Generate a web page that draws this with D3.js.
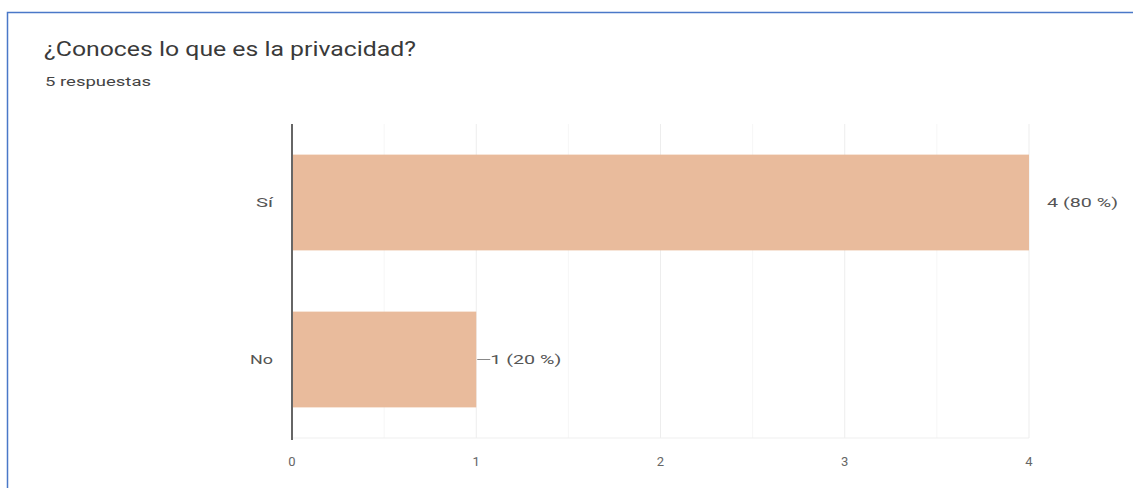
<!DOCTYPE html>
<html>
<head>
<meta charset="utf-8">
<script src="https://cdn.jsdelivr.net/npm/d3@7"></script>
<style>
  body { margin: 0; background: #fff; }
  svg { font-family: Roboto, Arial, sans-serif; }
</style>
</head>
<body>
<div id="chart"></div>
<script>
var svgWidth = 1133;
var svgHeight = 488;

// data
var categories = ["Sí", "No"];
var counts = [4, 1];
var valueLabels = ["4 (80 %)", "1 (20 %)"];
var xTicks = [0, 1, 2, 3, 4];
var title = "¿Conoces lo que es la privacidad?";
var subtitle = "5 respuestas";

var margin = { top: 124, right: 104, bottom: 50, left: 292 };
var width = svgWidth - margin.left - margin.right;
var height = 438 - margin.top;

var svg = d3.select("#chart")
  .append("svg")
  .attr("width", svgWidth)
  .attr("height", svgHeight);

// card border
svg.append("rect")
  .attr("x", 7.5)
  .attr("y", 12.5)
  .attr("width", 1140)
  .attr("height", 500)
  .attr("fill", "none")
  .attr("stroke", "#4a78c8")
  .attr("stroke-width", 1.5);

// the picture is stretched sideways, so text gets a fixed length
svg.append("text")
  .attr("x", 44)
  .attr("y", 56)
  .attr("font-size", 20)
  .attr("fill", "#3a3a3a")
  .attr("textLength", 372)
  .attr("lengthAdjust", "spacingAndGlyphs")
  .text(title);

svg.append("text")
  .attr("x", 45)
  .attr("y", 86)
  .attr("font-size", 12)
  .attr("fill", "#444")
  .attr("textLength", 106)
  .attr("lengthAdjust", "spacingAndGlyphs")
  .text(subtitle);

var chartGroup = svg.append("g")
  .attr("transform", `translate(${margin.left}, ${margin.top})`);

var xScale = d3.scaleLinear()
  .domain([0, 4])
  .range([0, width]);

var yScale = d3.scaleBand()
  .domain(categories)
  .range([0, height])
  .paddingInner(0.39)
  .paddingOuter(0.195);

// minor gridlines
chartGroup.append("g")
  .selectAll("line")
  .data(d3.range(0.5, 4, 1))
  .enter()
  .append("line")
  .attr("x1", d => xScale(d))
  .attr("x2", d => xScale(d))
  .attr("y1", 0)
  .attr("y2", height)
  .attr("stroke", "#f6f6f6");

// major gridlines
chartGroup.append("g")
  .selectAll("line")
  .data(xTicks.slice(1))
  .enter()
  .append("line")
  .attr("x1", d => xScale(d))
  .attr("x2", d => xScale(d))
  .attr("y1", 0)
  .attr("y2", height)
  .attr("stroke", "#ededed");

chartGroup.append("line")
  .attr("x1", 0)
  .attr("x2", width)
  .attr("y1", height)
  .attr("y2", height)
  .attr("stroke", "#efefef");

// bars
chartGroup.selectAll("rect.bar")
  .data(counts)
  .enter()
  .append("rect")
  .attr("class", "bar")
  .attr("x", 0)
  .attr("y", (d, i) => yScale(categories[i]))
  .attr("width", d => xScale(d))
  .attr("height", yScale.bandwidth())
  .attr("fill", "#e9bb9c");

// y axis line
chartGroup.append("line")
  .attr("x1", 0)
  .attr("x2", 0)
  .attr("y1", 0)
  .attr("y2", height + 2)
  .attr("stroke", "#666")
  .attr("stroke-width", 2);

// category labels
var catWidths = [17, 23];
chartGroup.selectAll("text.cat")
  .data(categories)
  .enter()
  .append("text")
  .attr("class", "cat")
  .attr("x", (d, i) => -19 - catWidths[i])
  .attr("y", d => yScale(d) + yScale.bandwidth() / 2)
  .attr("dy", "0.35em")
  .attr("font-size", 13)
  .attr("fill", "#555")
  .attr("textLength", (d, i) => catWidths[i])
  .attr("lengthAdjust", "spacingAndGlyphs")
  .text(d => d);

// x tick labels
chartGroup.selectAll("text.tick")
  .data(xTicks)
  .enter()
  .append("text")
  .attr("class", "tick")
  .attr("x", d => xScale(d))
  .attr("y", height + 28)
  .attr("text-anchor", "middle")
  .attr("font-size", 13)
  .attr("fill", "#666")
  .text(d => d);

// value labels, the short bar gets a leader line
var labelGroup = chartGroup.selectAll("g.vlabel")
  .data(counts)
  .enter()
  .append("g")
  .attr("class", "vlabel")
  .attr("transform", (d, i) =>
    `translate(${xScale(d)}, ${yScale(categories[i]) + yScale.bandwidth() / 2})`);

labelGroup.filter((d, i) => i === 1)
  .append("line")
  .attr("x1", 1)
  .attr("x2", 14)
  .attr("y1", 0)
  .attr("y2", 0)
  .attr("stroke", "#888");

labelGroup.append("text")
  .attr("x", (d, i) => i === 0 ? 18 : 14)
  .attr("dy", "0.35em")
  .attr("font-size", 13)
  .attr("fill", "#555")
  .attr("textLength", 71)
  .attr("lengthAdjust", "spacingAndGlyphs")
  .text((d, i) => valueLabels[i]);
</script>
</body>
</html>
